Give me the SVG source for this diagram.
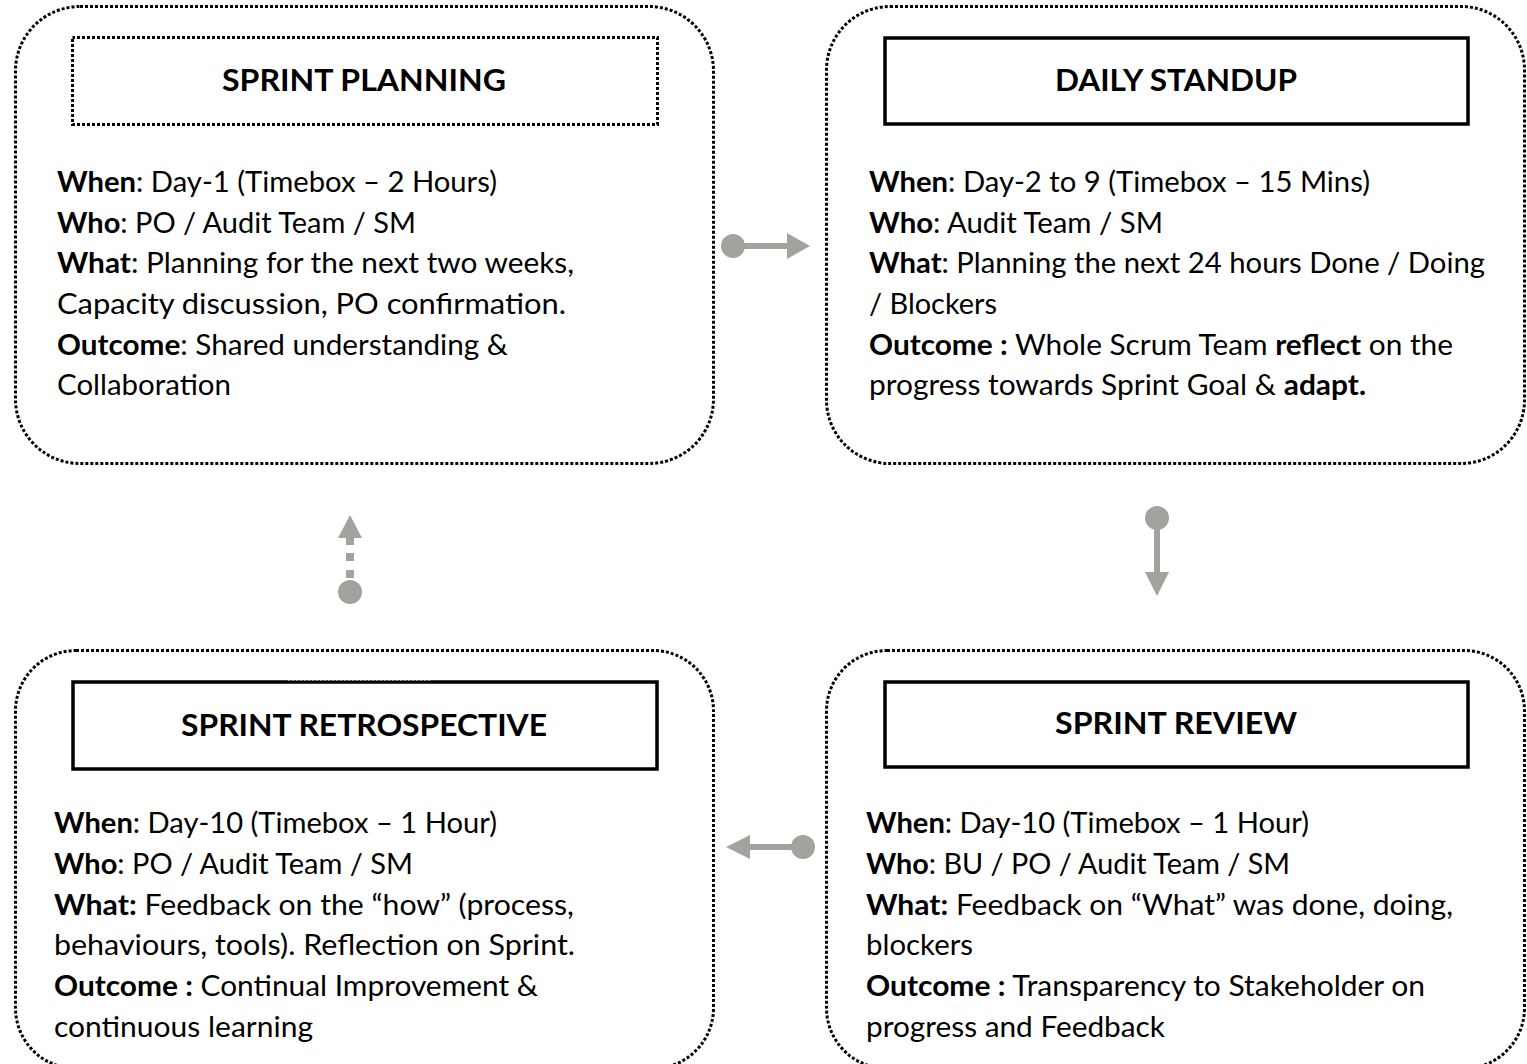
<svg xmlns="http://www.w3.org/2000/svg" width="1527" height="1064" viewBox="0 0 1527 1064">
<style>
.outer{fill:none;stroke:#000;stroke-width:3;stroke-dasharray:3 2}
.title{fill:#fff;stroke:#000;stroke-width:3.5}
.titled{fill:#fff;stroke:#000;stroke-width:3;stroke-dasharray:3 2;stroke-dashoffset:0.5}
.tt{font-family:Lato,"Liberation Sans",sans-serif;font-weight:bold;font-size:31px;fill:#000;text-anchor:middle}
.bd{font-family:Lato,"Liberation Sans",sans-serif;font-size:28.5px;fill:#000}
.b{font-weight:bold}
.conn{fill:#A3A39E;stroke:none}
.stem{stroke:#A3A39E;stroke-width:6;fill:none}
</style>
<rect width="1527" height="1064" fill="#fff"/>

<g id="sprint-planning">
<rect class="outer" x="15.5" y="6.5" width="698" height="457" rx="64.5" ry="64.5"/>
<rect class="titled" x="72.5" y="37.5" width="585" height="87"/>
<text class="tt" x="364" y="91" textLength="284" lengthAdjust="spacingAndGlyphs">SPRINT PLANNING</text>
<text class="bd" x="57" y="192" textLength="440" lengthAdjust="spacingAndGlyphs"><tspan class="b">When</tspan>: Day-1 (Timebox – 2 Hours)</text>
<text class="bd" x="57" y="233" textLength="359" lengthAdjust="spacingAndGlyphs"><tspan class="b">Who</tspan>: PO / Audit Team / SM</text>
<text class="bd" x="57" y="273" textLength="517" lengthAdjust="spacingAndGlyphs"><tspan class="b">What</tspan>: Planning for the next two weeks,</text>
<text class="bd" x="57" y="314" textLength="509" lengthAdjust="spacingAndGlyphs">Capacity discussion, PO confirmation.</text>
<text class="bd" x="57" y="355" textLength="451" lengthAdjust="spacingAndGlyphs"><tspan class="b">Outcome</tspan>: Shared understanding &amp;</text>
<text class="bd" x="57" y="395" textLength="174" lengthAdjust="spacingAndGlyphs">Collaboration</text>
</g>

<g id="daily-standup">
<rect class="outer" x="826.5" y="6.5" width="698" height="457" rx="63.5" ry="63.5"/>
<rect class="title" x="885" y="38" width="583" height="86"/>
<text class="tt" x="1176" y="91" textLength="242" lengthAdjust="spacingAndGlyphs">DAILY STANDUP</text>
<text class="bd" x="869" y="192" textLength="501" lengthAdjust="spacingAndGlyphs"><tspan class="b">When</tspan>: Day-2 to 9 (Timebox – 15 Mins)</text>
<text class="bd" x="869" y="233" textLength="294" lengthAdjust="spacingAndGlyphs"><tspan class="b">Who</tspan>: Audit Team / SM</text>
<text class="bd" x="869" y="273" textLength="616" lengthAdjust="spacingAndGlyphs"><tspan class="b">What</tspan>: Planning the next 24 hours Done / Doing</text>
<text class="bd" x="869" y="314" textLength="128" lengthAdjust="spacingAndGlyphs">/ Blockers</text>
<text class="bd" x="869" y="355" textLength="584" lengthAdjust="spacingAndGlyphs"><tspan class="b">Outcome :</tspan> Whole Scrum Team <tspan class="b">reflect</tspan> on the</text>
<text class="bd" x="869" y="395" textLength="497" lengthAdjust="spacingAndGlyphs">progress towards Sprint Goal &amp; <tspan class="b">adapt.</tspan></text>
</g>

<g id="sprint-retrospective">
<rect class="outer" x="15.5" y="650.5" width="698" height="418" rx="60.5" ry="60.5"/>
<rect class="title" x="73" y="682" width="584" height="87"/>
<line x1="288" y1="680.5" x2="430" y2="680.5" stroke="#999" stroke-width="1" stroke-dasharray="2 2"/>
<text class="tt" x="364" y="736" textLength="366" lengthAdjust="spacingAndGlyphs">SPRINT RETROSPECTIVE</text>
<text class="bd" x="54" y="833" textLength="443" lengthAdjust="spacingAndGlyphs"><tspan class="b">When</tspan>: Day-10 (Timebox – 1 Hour)</text>
<text class="bd" x="54" y="874" textLength="359" lengthAdjust="spacingAndGlyphs"><tspan class="b">Who</tspan>: PO / Audit Team / SM</text>
<text class="bd" x="54" y="915" textLength="520" lengthAdjust="spacingAndGlyphs"><tspan class="b">What:</tspan> Feedback on the “how” (process,</text>
<text class="bd" x="54" y="955" textLength="521" lengthAdjust="spacingAndGlyphs">behaviours, tools). Reflection on Sprint.</text>
<text class="bd" x="54" y="996" textLength="484" lengthAdjust="spacingAndGlyphs"><tspan class="b">Outcome :</tspan> Continual Improvement &amp;</text>
<text class="bd" x="54" y="1037" textLength="259" lengthAdjust="spacingAndGlyphs">continuous learning</text>
</g>

<g id="sprint-review">
<rect class="outer" x="826.5" y="650.5" width="698" height="418" rx="60.5" ry="60.5"/>
<rect class="title" x="885" y="682" width="583" height="85"/>
<text class="tt" x="1176" y="734" textLength="242" lengthAdjust="spacingAndGlyphs">SPRINT REVIEW</text>
<text class="bd" x="866" y="833" textLength="443" lengthAdjust="spacingAndGlyphs"><tspan class="b">When</tspan>: Day-10 (Timebox – 1 Hour)</text>
<text class="bd" x="866" y="874" textLength="424" lengthAdjust="spacingAndGlyphs"><tspan class="b">Who</tspan>: BU / PO / Audit Team / SM</text>
<text class="bd" x="866" y="915" textLength="587" lengthAdjust="spacingAndGlyphs"><tspan class="b">What:</tspan> Feedback on “What” was done, doing,</text>
<text class="bd" x="866" y="955" textLength="107" lengthAdjust="spacingAndGlyphs">blockers</text>
<text class="bd" x="866" y="996" textLength="559" lengthAdjust="spacingAndGlyphs"><tspan class="b">Outcome :</tspan> Transparency to Stakeholder on</text>
<text class="bd" x="866" y="1037" textLength="299" lengthAdjust="spacingAndGlyphs">progress and Feedback</text>
</g>

<g id="connectors">
<g id="planning-to-standup">
<circle class="conn" cx="733" cy="246" r="12"/>
<line class="stem" x1="733" y1="246" x2="790" y2="246"/>
<polygon class="conn" points="787,233 810,246 787,259"/>
</g>
<g id="standup-to-review">
<circle class="conn" cx="1157" cy="518" r="12"/>
<line class="stem" x1="1157" y1="518" x2="1157" y2="574"/>
<polygon class="conn" points="1145,572 1169,572 1157,596"/>
</g>
<g id="review-to-retro">
<circle class="conn" cx="803" cy="847" r="12"/>
<line class="stem" x1="803" y1="847" x2="748" y2="847"/>
<polygon class="conn" points="750,835 726,847 750,859"/>
</g>
<g id="retro-to-planning">
<circle class="conn" cx="350" cy="592" r="12"/>
<rect class="conn" x="346" y="553" width="8" height="8"/>
<rect class="conn" x="346" y="570" width="8" height="8"/>
<rect class="conn" x="346" y="536" width="8" height="9"/>
<polygon class="conn" points="338,538 362,538 350,515"/>
</g>
</g>
</svg>
